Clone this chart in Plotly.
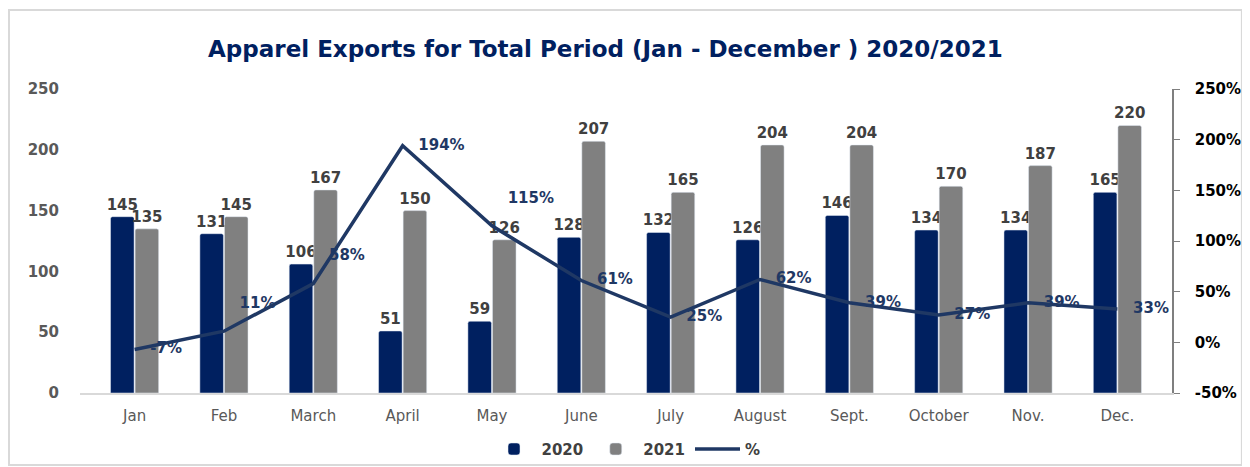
import plotly.graph_objects as go

months = ["Jan", "Feb", "March", "April", "May", "June", "July", "August",
          "Sept.", "October", "Nov.", "Dec."]
exports_2020 = [145, 131, 106, 51, 59, 128, 132, 126, 146, 134, 134, 165]
exports_2021 = [135, 145, 167, 150, 126, 207, 165, 204, 204, 170, 187, 220]
pct_change = [-7, 11, 58, 194, 115, 61, 25, 62, 39, 27, 39, 33]
left_ticks = [0, 50, 100, 150, 200, 250]
right_ticks = [-50, 0, 50, 100, 150, 200, 250]

FONT = "DejaVu Sans"
# label placement for the % series (raised labels for Feb, March, May)
pct_raised = [False, True, True, False, True, False, False, False, False,
              False, False, False]
pct_pos = ["top right" if r else "middle right" for r in pct_raised]
pct_text = [f"   {v}%<br> " if r else f"   {v}%" for v, r in zip(pct_change, pct_raised)]

fig = go.Figure()
fig.add_trace(go.Bar(
    x=months, y=exports_2020, name="2020",
    marker=dict(color="#002060", cornerradius=2),
    text=[str(v) for v in exports_2020], textposition="outside",
    constraintext="none",
    textfont=dict(family=FONT, size=15, color="#404040", weight="bold"),
    cliponaxis=False,
))
fig.add_trace(go.Bar(
    x=months, y=exports_2021, name="2021",
    marker=dict(color="#808080", cornerradius=2),
    text=[str(v) for v in exports_2021], textposition="outside",
    constraintext="none",
    textfont=dict(family=FONT, size=15, color="#404040", weight="bold"),
    cliponaxis=False,
))
fig.add_trace(go.Scatter(
    x=months, y=pct_change, name="%", yaxis="y2",
    mode="lines+text",
    line=dict(color="#1F3864", width=3.5),
    text=pct_text, textposition=pct_pos,
    textfont=dict(family=FONT, size=15, color="#1F3864", weight="bold"),
    cliponaxis=False,
))

fig.update_layout(
    width=1242, height=459,
    margin=dict(l=72, r=78, t=81, b=74, autoexpand=False),
    paper_bgcolor="white", plot_bgcolor="white",
    barmode="group", bargap=0.45, bargroupgap=0.04,
    title=dict(
        text="Apparel Exports for Total Period (Jan - December ) 2020/2021",
        x=0.481, xanchor="center", y=0.911, yref="container", yanchor="middle",
        font=dict(family=FONT, size=23, color="#002060", weight="bold"),
    ),
    xaxis=dict(
        showgrid=False, showline=True, linecolor="#D9D9D9", linewidth=1.5,
        ticks="", tickfont=dict(family=FONT, size=15, color="#595959"),
        ticklabelstandoff=8, automargin=False,
    ),
    yaxis=dict(
        range=[0, 250], tickvals=left_ticks, showgrid=False, showline=False,
        zeroline=False, ticks="", automargin=False,
        tickfont=dict(family=FONT, size=15, color="#595959", weight="bold"),
        ticklabelstandoff=20,
    ),
    yaxis2=dict(
        range=[-50, 250], tickvals=right_ticks,
        ticktext=[f"{v}%" for v in right_ticks],
        overlaying="y", side="right", showgrid=False, zeroline=False,
        showline=True, linecolor="#7F7F7F", linewidth=1.5, automargin=False,
        ticks="outside", ticklen=6, tickcolor="#7F7F7F",
        tickfont=dict(family=FONT, size=15, color="#000000", weight="bold"),
        ticklabelstandoff=12,
    ),
    legend=dict(
        orientation="h", x=0.5, xanchor="center", y=-0.185, yanchor="middle",
        font=dict(family=FONT, size=15, color="#404040", weight="bold"),
        itemwidth=45, tracegroupgap=20, bgcolor="rgba(0,0,0,0)",
    ),
    showlegend=True,
    shapes=[dict(
        type="rect", xref="paper", yref="paper",
        x0=-0.065, x1=1.064, y0=-0.237, y1=1.26,
        line=dict(color="#D9D9D9", width=2), fillcolor="rgba(0,0,0,0)",
        layer="below",
    )],
)

fig.write_html("out.html")
